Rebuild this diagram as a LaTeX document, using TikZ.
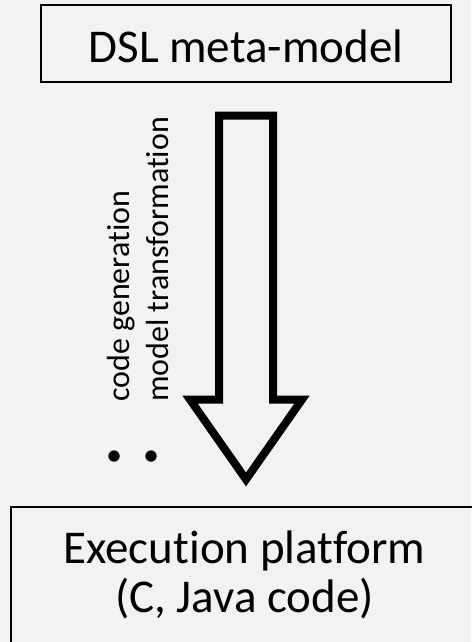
\documentclass[tikz,border=0pt]{standalone}
\usepackage{fontspec}
\setmainfont{Carlito}[Ligatures=NoCommon]
\usetikzlibrary{calc}
\definecolor{bgc}{HTML}{F2F2F2}
\begin{document}
\begin{tikzpicture}[x=1pt,y=-1pt,
  box/.style={draw=black, line width=1.1pt, inner sep=0pt, font=\fontsize{47}{49}\selectfont},
  lbl/.style={font=\fontsize{32}{39}\selectfont, rotate=90, anchor=base west, inner sep=0pt},
  bul/.style={font=\fontsize{32}{39}\selectfont, rotate=90, anchor=center, inner sep=0pt},
  hollow/.style={draw=black, line width=8pt, line join=miter, miter limit=10}]
\fill[bgc] (0,0) rectangle (471,642);
\useasboundingbox (0,0) rectangle (471,642);
% top box
\node[box, minimum width=410pt, minimum height=77pt, text height=39pt, text depth=0pt] (dsl) at (246,43.5) {DSL meta-model};
% bottom box
\node[box, align=center, minimum width=467pt, minimum height=141pt, text height=82pt, text depth=13pt] (exec) at (244.5,577.5) {Execution platform\\(C, Java code)};
% block arrow
\coordinate (top) at ($(dsl.south)+(0,33)$);
\coordinate (tip) at ($(exec.north)+(1.5,-27)$);
\draw[hollow] ($(top)+(-27,0)$) -- ($(top)+(27,0)$) -- ($(top)+(27,284)$) -- ($(top)+(56,284)$)
  -- (tip) -- ($(top)+(-56,284)$) -- ($(top)+(-27,284)$) -- cycle;
% labels
\node[lbl] (l1) at (129,402) {code generation};
\node[lbl] (l2) at (168,402) {model transformation};
\node[bul] (b1) at (115.7,457) {•};
\node[bul] (b2) at (153,457) {•};
\end{tikzpicture}
\end{document}
